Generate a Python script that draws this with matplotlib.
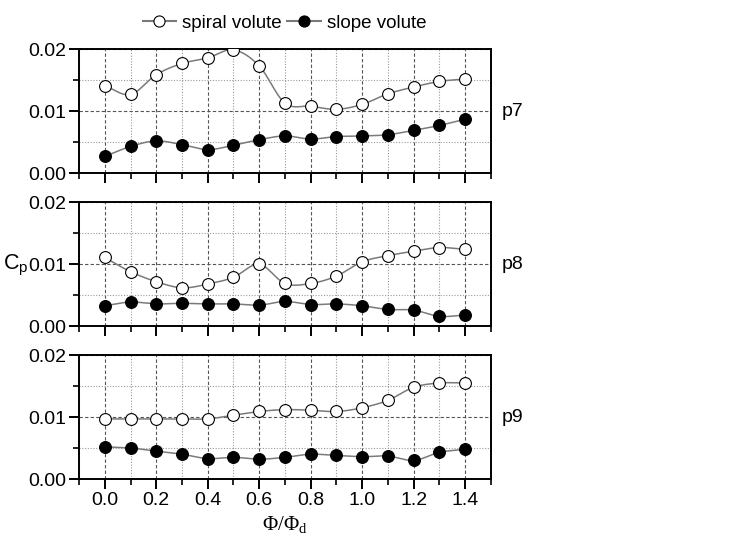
import numpy as np
import matplotlib
matplotlib.use("Agg")
import matplotlib.pyplot as plt
from matplotlib.ticker import MultipleLocator

plt.rcParams['font.family'] = ['Liberation Sans', 'DejaVu Sans']

phi = [0.0, 0.1, 0.2, 0.3, 0.4, 0.5, 0.6, 0.7, 0.8, 0.9, 1.0, 1.1, 1.2, 1.3, 1.4]

spiral_p7 = [0.0141, 0.0127, 0.0159, 0.0177, 0.0186, 0.0199, 0.0173, 0.0113, 0.0108, 0.0103,
             0.0111, 0.0128, 0.0139, 0.0148, 0.0152]
slope_p7 = [0.0027, 0.0043, 0.0052, 0.0046, 0.0038, 0.0045, 0.0054, 0.0060, 0.0055, 0.0059,
            0.0060, 0.0062, 0.0069, 0.0077, 0.0087]

spiral_p8 = [0.0111, 0.0088, 0.0072, 0.0062, 0.0068, 0.0079, 0.0100, 0.0069, 0.0069, 0.0081,
             0.0104, 0.0114, 0.0121, 0.0127, 0.0124]
slope_p8 = [0.0033, 0.0039, 0.0036, 0.0037, 0.0036, 0.0036, 0.0034, 0.0040, 0.0035, 0.0036,
            0.0033, 0.0027, 0.0026, 0.0016, 0.0018]

spiral_p9 = [0.0097, 0.0097, 0.0097, 0.0097, 0.0097, 0.0103, 0.0109, 0.0112, 0.0111, 0.0109,
             0.0115, 0.0127, 0.0148, 0.0155, 0.0155]
slope_p9 = [0.0052, 0.0050, 0.0045, 0.0040, 0.0033, 0.0035, 0.0032, 0.0035, 0.0040, 0.0038,
            0.0036, 0.0037, 0.0030, 0.0043, 0.0048]

panels = [("p7", spiral_p7, slope_p7), ("p8", spiral_p8, slope_p8), ("p9", spiral_p9, slope_p9)]


def smooth(x, y, n=12):
    # catmull-rom through the points, just for the drawn line
    x = np.asarray(x, float)
    y = np.asarray(y, float)
    px = np.concatenate([[2 * x[0] - x[1]], x, [2 * x[-1] - x[-2]]])
    py = np.concatenate([[2 * y[0] - y[1]], y, [2 * y[-1] - y[-2]]])
    xs, ys = [], []
    t = np.linspace(0, 1, n, endpoint=False)
    for i in range(1, len(px) - 2):
        for arr, out in ((px, xs), (py, ys)):
            p0, p1, p2, p3 = arr[i - 1], arr[i], arr[i + 1], arr[i + 2]
            out.extend(0.5 * (2 * p1 + (-p0 + p2) * t + (2 * p0 - 5 * p1 + 4 * p2 - p3) * t ** 2
                              + (-p0 + 3 * p1 - 3 * p2 + p3) * t ** 3))
    xs.append(x[-1])
    ys.append(y[-1])
    return xs, ys


fig = plt.figure(figsize=(7.29, 5.41), dpi=100)
bottoms = [0.680, 0.397, 0.1146]
axes = []
for k, ((name, sp, sl), b) in enumerate(zip(panels, bottoms)):
    ax = fig.add_axes([0.1084, b, 0.565, 0.229])
    axes.append(ax)
    for vals, face in ((sp, 'white'), (sl, 'black')):
        sx, sy = smooth(phi, vals)
        ax.plot(sx, sy, color='#7a7a7a', lw=1.1, zorder=2)
        ax.plot(phi, vals, 'o', ms=8.5, mfc=face, mec='black', mew=0.8, zorder=3)
    ax.set_xlim(-0.1, 1.5)
    ax.set_ylim(0, 0.02)
    ax.xaxis.set_major_locator(MultipleLocator(0.2))
    ax.xaxis.set_minor_locator(MultipleLocator(0.1))
    ax.yaxis.set_major_locator(MultipleLocator(0.01))
    ax.yaxis.set_minor_locator(MultipleLocator(0.005))
    ax.set_yticks([0, 0.01, 0.02])
    ax.set_yticklabels(['0.00', '0.01', '0.02'])
    ax.set_xticks([0.0, 0.2, 0.4, 0.6, 0.8, 1.0, 1.2, 1.4])
    ax.set_xticklabels(['0.0', '0.2', '0.4', '0.6', '0.8', '1.0', '1.2', '1.4'])
    ax.grid(which='major', ls=(0, (3, 2)), color='#555555', lw=0.8)
    ax.grid(which='minor', ls=(0, (1, 1.5)), color='#999999', lw=0.8)
    ax.set_axisbelow(True)
    ax.tick_params(which='major', direction='out', length=7, width=1.4, labelsize=14, pad=2.5)
    ax.tick_params(which='minor', direction='out', length=4, width=1.2)
    for s in ax.spines.values():
        s.set_linewidth(1.4)
    ax.text(1.025, 0.5, name, transform=ax.transAxes, fontsize=14, va='center', ha='left')
    if k < len(panels) - 1:
        ax.tick_params(axis='x', labelbottom=False)

axes[-1].set_xlabel(r'Φ/Φ$_\mathregular{d}$', fontsize=15, family='Liberation Serif', labelpad=4)

fig.text(0.004, 0.51, r'C$_\mathregular{p}$', fontsize=15.5, ha='left', va='center')

h1, = axes[0].plot([], [], '-o', color='#7a7a7a', ms=8, mfc='white', mec='black', mew=0.8)
h2, = axes[0].plot([], [], '-o', color='#7a7a7a', ms=8, mfc='black', mec='black', mew=0.8)
fig.legend([h1, h2], ['spiral volute', 'slope volute'], loc='center', bbox_to_anchor=(0.39, 0.957),
           ncol=2, frameon=False, fontsize=13.5, handlelength=1.8, handletextpad=0.3, columnspacing=0.3)

fig.savefig('out.png', dpi=100)
